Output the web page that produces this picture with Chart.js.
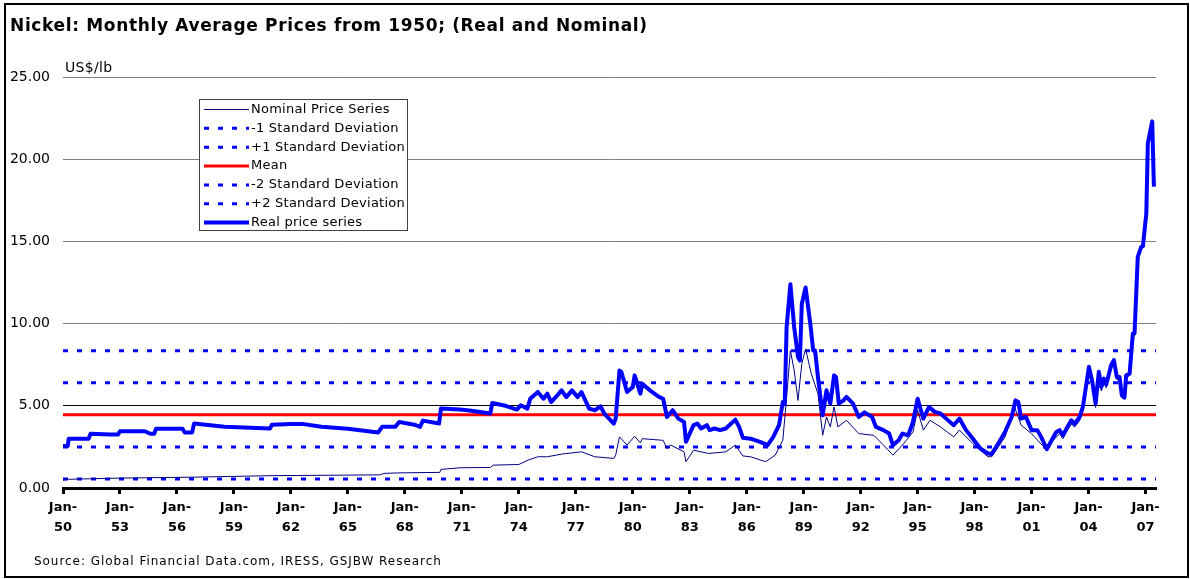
<!DOCTYPE html>
<html>
<head>
<meta charset="utf-8">
<script src="https://cdn.jsdelivr.net/npm/chart.js@4.4.0/dist/chart.umd.min.js"></script>
<style>
  html, body { margin: 0; padding: 0; background: #fff; }
  #wrap { width: 1190px; height: 579px; }
</style>
</head>
<body>
<div id="wrap"><canvas id="nickel-chart" width="1190" height="579"></canvas></div>
<script>
// Real price series (US$/lb, constant dollars)
const realYears = [
  1950.0, 1950.25, 1950.3, 1951.35, 1951.45, 1952.5, 1952.9, 1953.0, 1954.3, 1954.6,
  1954.8, 1954.9, 1956.3, 1956.4, 1956.8, 1956.9, 1958.5, 1960.9, 1961.0, 1962.0,
  1962.6, 1963.6, 1965.0, 1966.6, 1966.8, 1967.5, 1967.7, 1968.0, 1968.5, 1968.8,
  1968.95, 1969.8, 1969.9, 1970.9, 1971.5, 1972.5, 1972.6, 1973.3, 1973.9, 1974.1,
  1974.45, 1974.6, 1975.0, 1975.3, 1975.5, 1975.7, 1976.0, 1976.25, 1976.5, 1976.8,
  1977.1, 1977.3, 1977.7, 1978.0, 1978.3, 1978.5, 1979.0, 1979.1, 1979.3, 1979.4,
  1979.7, 1980.0, 1980.1, 1980.4, 1980.5, 1980.9, 1981.4, 1981.6, 1981.8, 1982.1,
  1982.4, 1982.7, 1982.8, 1983.2, 1983.4, 1983.6, 1983.9, 1984.05, 1984.3, 1984.6,
  1984.9, 1985.4, 1985.6, 1985.8, 1986.2, 1986.7, 1987.1, 1987.4, 1987.7, 1987.9,
  1988.0, 1988.1, 1988.3, 1988.5, 1988.7, 1988.8, 1988.9, 1989.1, 1989.35, 1989.5,
  1989.6, 1989.75, 1990.0, 1990.2, 1990.4, 1990.6, 1990.7, 1990.85, 1991.1, 1991.25,
  1991.6, 1991.9, 1992.2, 1992.6, 1992.8, 1993.2, 1993.5, 1993.7, 1994.0, 1994.2,
  1994.5, 1994.75, 1995.0, 1995.3, 1995.6, 1995.9, 1996.2, 1996.5, 1996.9, 1997.2,
  1997.55, 1997.9, 1998.3, 1998.7, 1998.9, 1999.3, 1999.6, 1999.95, 2000.15, 2000.3,
  2000.45, 2000.7, 2001.0, 2001.3, 2001.5, 2001.8, 2002.1, 2002.3, 2002.47, 2002.65,
  2002.83, 2003.09, 2003.26, 2003.53, 2003.7, 2004.02, 2004.19, 2004.37, 2004.54, 2004.67,
  2004.81, 2004.93, 2005.19, 2005.33, 2005.49, 2005.63, 2005.75, 2005.89, 2005.98, 2006.16,
  2006.33, 2006.42, 2006.59, 2006.77, 2006.86, 2007.04, 2007.12, 2007.35, 2007.44
];
const realPrices = [
  2.55, 2.55, 3.0, 3.0, 3.3, 3.25, 3.25, 3.45, 3.45, 3.3,
  3.3, 3.6, 3.6, 3.38, 3.38, 3.92, 3.72, 3.62, 3.85, 3.9,
  3.9, 3.72, 3.6, 3.38, 3.72, 3.72, 4.02, 3.95, 3.85, 3.72,
  4.1, 3.92, 4.83, 4.77, 4.7, 4.53, 5.17, 5.0, 4.77, 5.03,
  4.83, 5.43, 5.84, 5.43, 5.74, 5.23, 5.6, 5.94, 5.53, 5.94,
  5.53, 5.84, 4.83, 4.73, 4.97, 4.53, 3.92, 4.22, 7.15, 7.05,
  5.84, 6.14, 6.85, 5.74, 6.34, 5.94, 5.53, 5.43, 4.32, 4.73,
  4.22, 4.02, 2.81, 3.82, 3.92, 3.62, 3.82, 3.52, 3.62, 3.52,
  3.62, 4.16, 3.72, 3.05, 3.0, 2.8, 2.61, 3.11, 3.82, 5.23,
  5.1, 9.78, 12.4, 9.78, 7.96, 7.75, 11.19, 12.2, 9.98, 8.36,
  8.36, 6.75, 4.42, 5.94, 5.13, 6.85, 6.75, 5.13, 5.33, 5.54,
  5.13, 4.32, 4.6, 4.32, 3.72, 3.52, 3.31, 2.61, 2.9, 3.31,
  3.2, 4.0, 5.43, 4.22, 4.93, 4.63, 4.53, 4.22, 3.82, 4.22,
  3.52, 3.01, 2.4, 2.1, 2.07, 2.81, 3.41, 4.32, 5.33, 5.23,
  4.22, 4.32, 3.52, 3.52, 3.11, 2.36, 3.0, 3.41, 3.52, 3.2,
  3.6, 4.12, 3.9, 4.33, 4.93, 7.37, 6.5, 5.13, 7.07, 6.15,
  6.65, 6.3, 7.48, 7.78, 6.75, 6.75, 5.64, 5.5, 6.85, 6.95,
  9.38, 9.4, 14.06, 14.67, 14.7, 16.7, 20.96, 22.3, 18.33
];

// Nominal price series (US$/lb)
const nominalYears = [
  1950.0, 1950.3, 1951.4, 1952.9, 1956.9, 1961.0, 1966.7, 1966.9, 1967.7, 1969.84,
  1969.9, 1970.9, 1972.5, 1972.65, 1974.0, 1974.5, 1975.0, 1975.5, 1976.3, 1977.3,
  1978.0, 1979.0, 1979.1, 1979.3, 1979.7, 1980.1, 1980.4, 1980.5, 1981.6, 1981.8,
  1982.0, 1982.7, 1982.8, 1983.2, 1984.0, 1984.9, 1985.4, 1985.8, 1986.2, 1987.0,
  1987.5, 1987.9, 1988.1, 1988.3, 1988.5, 1988.7, 1988.9, 1989.1, 1989.4, 1989.75,
  1990.0, 1990.2, 1990.4, 1990.6, 1990.8, 1991.25, 1991.9, 1992.7, 1993.2, 1993.7,
  1994.2, 1994.75, 1995.0, 1995.3, 1995.65, 1996.2, 1996.9, 1997.2, 1997.9, 1998.7,
  1998.9, 1999.6, 2000.1, 2000.45, 2001.0, 2001.8, 2002.1, 2002.47, 2002.65, 2002.83,
  2003.09, 2003.26, 2003.53, 2003.7, 2004.02, 2004.19, 2004.37, 2004.54, 2004.67, 2004.81,
  2004.93, 2005.19, 2005.33, 2005.49, 2005.63, 2005.75, 2005.89, 2005.98, 2006.16, 2006.33,
  2006.42, 2006.59, 2006.77, 2006.86, 2007.04, 2007.12, 2007.35, 2007.44
];
const nominalPrices = [
  0.48, 0.53, 0.56, 0.6, 0.66, 0.75, 0.8, 0.89, 0.92, 0.95,
  1.13, 1.23, 1.25, 1.39, 1.43, 1.7, 1.9, 1.9, 2.07, 2.2,
  1.9, 1.8, 2.0, 3.11, 2.61, 3.15, 2.75, 3.0, 2.9, 2.4,
  2.61, 2.2, 1.6, 2.3, 2.1, 2.2, 2.61, 1.95, 1.9, 1.6,
  2.0, 2.9, 5.5, 8.36, 7.15, 5.33, 7.56, 8.46, 6.95, 5.74,
  3.21, 4.32, 3.72, 4.93, 3.72, 4.12, 3.31, 3.2, 2.61, 2.0,
  2.61, 3.4, 4.73, 3.52, 4.12, 3.72, 3.11, 3.52, 2.71, 1.9,
  1.9, 3.1, 4.93, 3.82, 3.3, 2.3, 2.85, 3.3, 3.0, 3.4,
  3.9, 3.7, 4.1, 4.7, 7.0, 6.2, 4.9, 6.8, 5.9, 6.4,
  6.1, 7.25, 7.55, 6.6, 6.6, 5.5, 5.4, 6.7, 6.85, 9.25,
  9.3, 13.95, 14.6, 14.65, 16.65, 20.9, 22.3, 18.33
];

// statistics of the real series
const meanLevel = 4.45;
const minus1Sd = 2.5;
const plus1Sd = 6.4;
const minus2Sd = 0.55;
const plus2Sd = 8.35;

const tickYears = [1950, 1953, 1956, 1959, 1962, 1965, 1968, 1971, 1974, 1977,
  1980, 1983, 1986, 1989, 1992, 1995, 1998, 2001, 2004, 2007];
const xStart = 1950;
const xEnd = 2007.55;

const chartTitle = 'Nickel: Monthly Average Prices from 1950; (Real and Nominal)';
const unitLabel = 'US$/lb';
const sourceText = 'Source: Global Financial Data.com, IRESS, GSJBW Research';

const FONT = '"DejaVu Sans", Verdana, sans-serif';

function pairs(xs, ys) {
  return xs.map((x, i) => ({ x: x, y: ys[i] }));
}
function flat(v) {
  return [{ x: xStart, y: v }, { x: xEnd, y: v }];
}

const dotted = [5, 9];

const datasets = [
  { label: 'Nominal Price Series', data: pairs(nominalYears, nominalPrices),
    borderColor: '#000080', borderWidth: 1, order: 1 },
  { label: '-1 Standard Deviation', data: flat(minus1Sd),
    borderColor: '#0000ff', borderWidth: 3, borderDash: dotted, order: 3 },
  { label: '+1 Standard Deviation', data: flat(plus1Sd),
    borderColor: '#0000ff', borderWidth: 3, borderDash: dotted, order: 3 },
  { label: 'Mean', data: flat(meanLevel),
    borderColor: '#ff0000', borderWidth: 3, order: 2 },
  { label: '-2 Standard Deviation', data: flat(minus2Sd),
    borderColor: '#0000ff', borderWidth: 3, borderDash: dotted, order: 3 },
  { label: '+2 Standard Deviation', data: flat(plus2Sd),
    borderColor: '#0000ff', borderWidth: 3, borderDash: dotted, order: 3 },
  { label: 'Real price series', data: pairs(realYears, realPrices),
    borderColor: '#0000ff', borderWidth: 4, order: 0 }
];

// title, unit label, source, outer frame and the boxed legend
const decorations = {
  id: 'decorations',
  afterDraw(chart) {
    const ctx = chart.ctx;
    ctx.save();
    ctx.strokeStyle = '#000';
    ctx.lineWidth = 2;
    ctx.strokeRect(5, 4, 1183, 573);

    ctx.fillStyle = '#000';
    ctx.textBaseline = 'middle';
    ctx.textAlign = 'left';
    ctx.font = 'bold 17px ' + FONT;
    ctx.letterSpacing = '0.65px';
    ctx.fillText(chartTitle, 10, 27);
    ctx.font = '14px ' + FONT;
    ctx.letterSpacing = '0.3px';
    ctx.fillText(unitLabel, 65, 68);
    ctx.font = '12px ' + FONT;
    ctx.letterSpacing = '0.95px';
    ctx.fillText(sourceText, 34, 562);

    // legend
    const bx = 199.5, by = 99.5, bw = 208, bh = 131;
    ctx.fillStyle = '#fff';
    ctx.fillRect(bx, by, bw, bh);
    ctx.strokeStyle = '#404040';
    ctx.lineWidth = 1;
    ctx.strokeRect(bx, by, bw, bh);
    ctx.font = '13px ' + FONT;
    ctx.letterSpacing = '0.25px';
    chart.data.datasets.forEach((ds, i) => {
      const y = 109.5 + i * 18.85;
      ctx.save();
      ctx.strokeStyle = ds.borderColor;
      ctx.lineWidth = ds.borderWidth;
      ctx.setLineDash(ds.borderDash || []);
      ctx.beginPath();
      ctx.moveTo(204, y);
      ctx.lineTo(249, y);
      ctx.stroke();
      ctx.restore();
      ctx.fillStyle = '#000';
      ctx.fillText(ds.label, 251, y);
    });
    ctx.restore();
  }
};

new Chart(document.getElementById('nickel-chart'), {
  type: 'line',
  data: { datasets: datasets },
  options: {
    responsive: false,
    animation: false,
    devicePixelRatio: 1,
    parsing: false,
    layout: { padding: { left: 0, top: 77, right: 34, bottom: 0 } },
    elements: {
      point: { radius: 0 },
      line: { tension: 0, borderJoinStyle: 'round', fill: false }
    },
    plugins: {
      legend: { display: false },
      title: { display: false },
      tooltip: { enabled: false }
    },
    scales: {
      x: {
        type: 'linear',
        min: xStart,
        max: xEnd,
        afterBuildTicks: (scale) => {
          scale.ticks = tickYears.map(v => ({ value: v }));
        },
        afterFit: (scale) => { scale.height = 91; },
        grid: {
          drawOnChartArea: false,
          drawTicks: true,
          tickLength: 6,
          tickWidth: 3,
          tickColor: '#000'
        },
        border: { display: true, color: '#000', width: 3 },
        ticks: {
          autoSkip: false,
          maxRotation: 0,
          minRotation: 0,
          padding: 4,
          color: '#000',
          font: { family: FONT, size: 13, weight: 'bold', lineHeight: 1.5 },
          callback: (v) => ['Jan-', String(v).slice(2)]
        }
      },
      y: {
        min: 0,
        max: 25,
        afterFit: (scale) => { scale.width = 63; },
        grid: {
          drawTicks: false,
          lineWidth: 1,
          color: (c) => c.tick.value === 0 ? 'rgba(0,0,0,0)' : (c.tick.value === 5 ? '#000' : '#808080')
        },
        border: { display: false },
        ticks: {
          stepSize: 5,
          padding: 13,
          color: '#000',
          font: { family: FONT, size: 14 },
          callback: (v) => v.toFixed(2)
        }
      }
    }
  },
  plugins: [decorations]
});
</script>
</body>
</html>
